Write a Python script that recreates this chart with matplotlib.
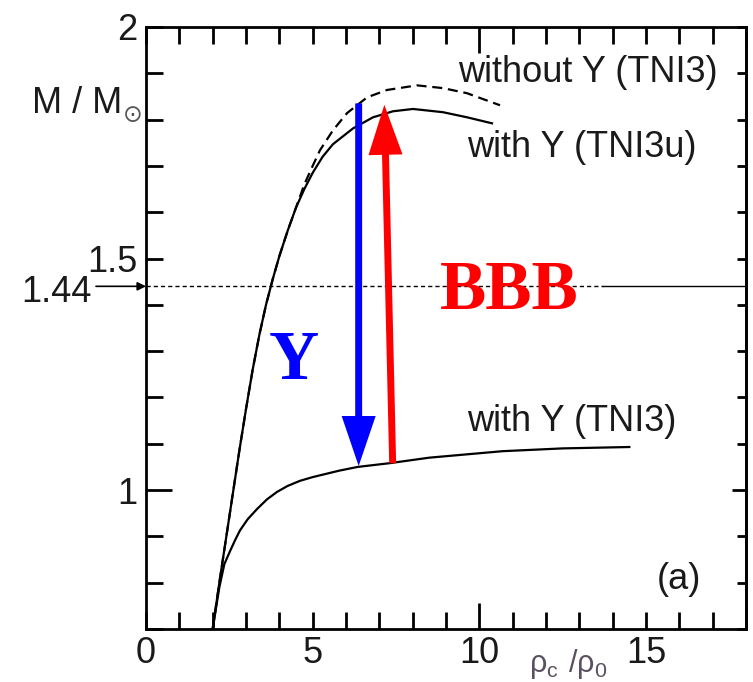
import matplotlib
matplotlib.use("Agg")
import matplotlib.pyplot as plt

plt.rcParams['font.family'] = ['Liberation Sans', 'DejaVu Sans']

# shared steep rise of the two upper curves
rise_x = [2.0, 2.2, 2.4, 2.6, 2.8, 3.0, 3.2, 3.4, 3.6, 3.8, 4.0, 4.25, 4.5]
rise_y = [0.70, 0.80, 0.895, 0.99, 1.085, 1.175, 1.26, 1.335, 1.40, 1.455, 1.505, 1.56, 1.61]

# without Y (TNI3), dashed
noY_x = rise_x + [4.75, 5.0, 5.22, 5.61, 6.03, 6.63, 7.23, 8.13, 8.91, 9.63, 10.62]
noY_y = rise_y + [1.66, 1.70, 1.734, 1.777, 1.814, 1.848, 1.864, 1.874, 1.868, 1.857, 1.831]

# with Y (TNI3u)
u_x = rise_x + [4.75, 5.0, 5.3, 5.61, 6.21, 6.81, 7.41, 8.01, 8.91, 9.63, 10.38]
u_y = rise_y + [1.65, 1.685, 1.72, 1.747, 1.781, 1.805, 1.818, 1.823, 1.816, 1.805, 1.792]

# with Y (TNI3)
y3_x = [2.0, 2.2, 2.35, 2.52, 2.68, 2.82, 3.05, 3.33, 3.63, 3.93, 4.25, 4.62,
        5.0, 5.4, 5.8, 6.35, 7.3, 8.5, 10.7, 12.5, 14.5]
y3_y = [0.70, 0.79, 0.84, 0.868, 0.893, 0.913, 0.937, 0.959, 0.980, 0.996, 1.009,
        1.02, 1.028, 1.035, 1.042, 1.050, 1.058, 1.070, 1.084, 1.090, 1.093]

m_ref = 1.44
blue_x, blue_top, blue_tip = 6.38, 1.835, 1.052
red_tail = (7.4, 1.058)
red_tip = (7.15, 1.832)

xtick_labels = {0: '0', 5: '5', 10: '10', 15: '15'}
ytick_labels = {1.0: '1', 1.5: '1.5', 2.0: '2'}

W, H = 753, 682
fig = plt.figure(figsize=(W / 100, H / 100), dpi=100)
ax = fig.add_axes([146 / W, 1 - 629 / H, 600 / W, 602 / H])


def fx(px):
    return px / W


def fy(py):
    return 1 - py / H


ax.plot(y3_x, y3_y, color='black', lw=1.6)
ax.plot(u_x, u_y, color='black', lw=1.6)
ax.plot(noY_x, noY_y, color='black', lw=1.6, dashes=(4.5, 2.6))

# 1.44 reference line: dashed then solid
ax.plot([0, 13.7], [m_ref, m_ref], color='black', lw=1.0, dashes=(3, 2.2))
ax.plot([13.7, 18], [m_ref, m_ref], color='black', lw=1.0)
ax.annotate('', xy=(0, m_ref), xytext=(-50, 0), textcoords='offset pixels',
            annotation_clip=False,
            arrowprops=dict(arrowstyle='-|>,head_length=0.5,head_width=0.25',
                            color='black', lw=1.2, shrinkA=0, shrinkB=0))

arrow_style = 'simple,head_length=3.6,head_width=2.45,tail_width=0.5'
ax.annotate('', xy=(blue_x, blue_tip), xytext=(blue_x, blue_top),
            arrowprops=dict(arrowstyle=arrow_style, color='#0000ff', lw=0,
                            shrinkA=0, shrinkB=0, mutation_scale=10))
ax.annotate('', xy=red_tip, xytext=red_tail,
            arrowprops=dict(arrowstyle=arrow_style, color='#ff0000', lw=0,
                            shrinkA=0, shrinkB=0, mutation_scale=10))

ax.text(4.44, 1.240, 'Y', color='#0000ff', fontsize=50, fontweight='bold',
        family='Liberation Serif', ha='center', va='baseline')
ax.text(10.9, 1.392, 'BBB', color='#ff0000', fontsize=50, fontweight='bold',
        family='Liberation Serif', ha='center', va='baseline')

txt = '#1a1a1a'
ax.text(9.36, 1.881, 'without Y (TNI3)', fontsize=26, color=txt, va='baseline')
ax.text(9.63, 1.719, 'with Y (TNI3u)', fontsize=26, color=txt, va='baseline')
ax.text(9.63, 1.128, 'with Y (TNI3)', fontsize=26, color=txt, va='baseline')
ax.text(15.33, 0.786, '(a)', fontsize=26, color=txt, va='baseline')

ax.set_xlim(0, 18)
ax.set_ylim(0.7, 2.0)

xminor = [v for v in range(0, 19) if v != 10]
ax.set_xticks([10])
ax.set_xticklabels(['10'])
ax.set_xticks(xminor, minor=True)
ax.set_xticklabels([xtick_labels.get(v, '') for v in xminor], minor=True)

yminor = [round(0.7 + 0.1 * i, 1) for i in range(14)]
yminor = [v for v in yminor if v != 1.0]
ax.set_yticks([1.0])
ax.set_yticklabels(['1'])
ax.set_yticks(yminor, minor=True)
ax.set_yticklabels([ytick_labels.get(v, '') for v in yminor], minor=True)

ax.tick_params(which='both', direction='in', top=True, right=False, width=2,
               labelsize=26, labelcolor=txt)
ax.tick_params(which='major', length=19)
ax.tick_params(which='minor', length=12.5)
ax.tick_params(axis='x', which='both', pad=5)
ax.tick_params(axis='y', which='both', pad=6)

sec = ax.secondary_yaxis('right')
sec.set_yticks([1.0])
sec.set_yticks(yminor, minor=True)
sec.tick_params(which='both', direction='in', width=2, labelright=False)
sec.tick_params(which='major', length=10)
sec.tick_params(which='minor', length=6.5)
sec.spines['right'].set_linewidth(2)

for s in ax.spines.values():
    s.set_linewidth(2)

fig.text(fx(32), fy(113), 'M / M', fontsize=26, color=txt, va='baseline')
fig.text(fx(133), fy(115), '\u2299', fontsize=17, color='#555555',
         family='DejaVu Sans', ha='center', va='center')
fig.text(fx(92), fy(302), '1.44', fontsize=26, color=txt, ha='right', va='baseline')
fig.text(fx(568), fy(664), r'$\mathregular{\rho_c\ /\rho_0}$', fontsize=22,
         color='#5a5060', ha='center', va='center')

fig.savefig('out.png', dpi=100)
